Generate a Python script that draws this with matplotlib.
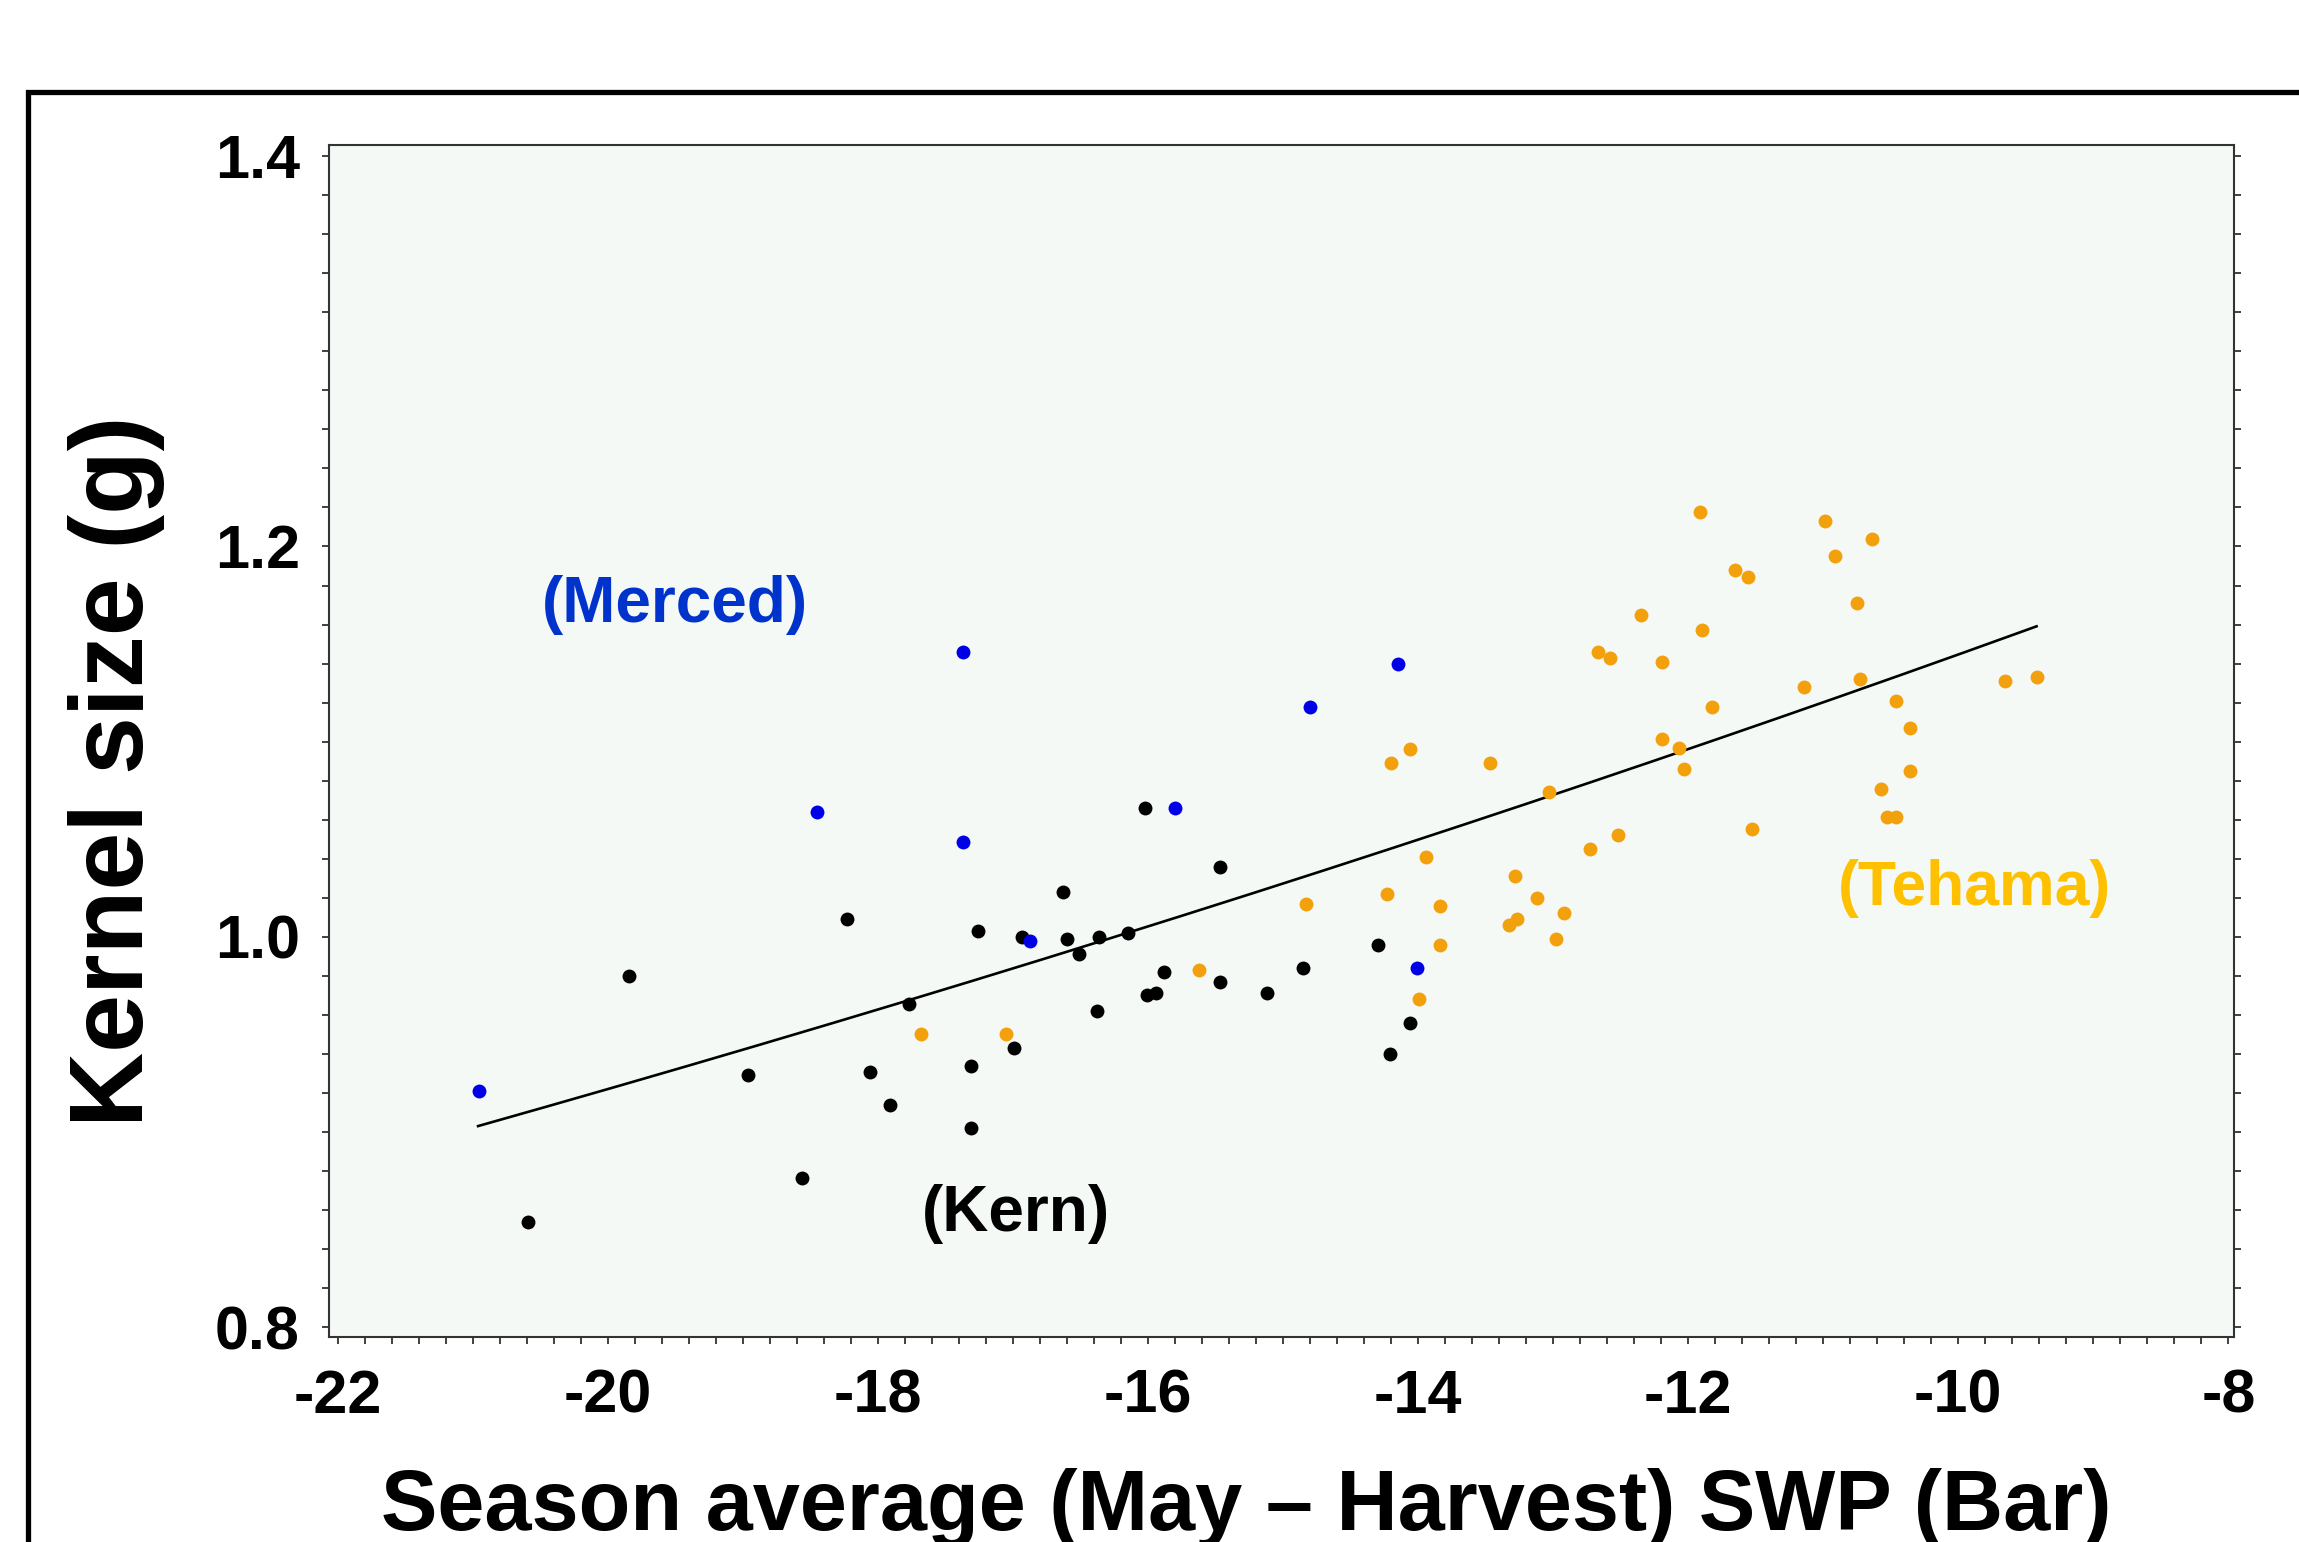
import numpy as np
import matplotlib
matplotlib.use("Agg")
import matplotlib.pyplot as plt
from matplotlib.patches import Rectangle
from matplotlib.ticker import MultipleLocator

plt.rcParams['font.family'] = ['Liberation Sans', 'DejaVu Sans']
plt.rcParams['font.weight'] = 'bold'

# ---------------- data ----------------
merced_x = [-20.95, -18.45, -17.37, -17.37, -16.87, -15.80, -14.80, -14.15, -14.01]
merced_y = [0.921, 1.064, 1.146, 1.0485, 0.998, 1.066, 1.118, 1.140, 0.984]

kern_x = [-20.59, -19.84, -18.96, -18.56, -18.23, -18.06, -17.91, -17.77, -17.31, -17.31,
          -17.26, -16.99, -16.93, -16.63, -16.60, -16.51, -16.38, -16.36, -16.15, -16.02,
          -16.01, -15.94, -15.88, -15.47, -15.47, -15.12, -14.85, -14.30, -14.21, -14.06]
kern_y = [0.854, 0.980, 0.929, 0.8765, 1.009, 0.931, 0.914, 0.9655, 0.934, 0.902,
          1.003, 0.943, 1.000, 1.023, 0.999, 0.991, 0.962, 1.000, 1.002, 1.066,
          0.970, 0.971, 0.982, 1.036, 0.977, 0.971, 0.984, 0.996, 0.940, 0.956]

tehama_x = [-17.68, -17.05, -15.62, -14.83, -14.23, -14.20, -14.06, -13.99, -13.94, -13.84,
            -13.84, -13.47, -13.33, -13.27, -13.28, -13.12, -13.03, -12.98, -12.92, -12.73,
            -12.67, -12.58, -12.52, -12.35, -12.19, -12.19, -12.07, -12.03, -11.91, -11.90,
            -11.82, -11.65, -11.56, -11.53, -11.14, -10.99, -10.91, -10.75, -10.73, -10.64,
            -10.57, -10.53, -10.46, -10.46, -10.36, -10.36, -9.65, -9.42]
tehama_y = [0.950, 0.950, 0.983, 1.017, 1.022, 1.089, 1.096, 0.968, 1.041, 1.016,
            0.996, 1.089, 1.006, 1.009, 1.031, 1.020, 1.074, 0.999, 1.012, 1.045,
            1.146, 1.143, 1.052, 1.165, 1.141, 1.1015, 1.097, 1.086, 1.2175, 1.157,
            1.118, 1.188, 1.1845, 1.0555, 1.128, 1.213, 1.195, 1.171, 1.132, 1.204,
            1.076, 1.0615, 1.0615, 1.121, 1.107, 1.085, 1.131, 1.133]

# fitted curve: y = exp(c0 + c1 * x)
fit_c0 = 0.3514
fit_c1 = 0.02163
fit_xmin = -20.96
fit_xmax = -9.42

x_ticks = [-22, -20, -18, -16, -14, -12, -10, -8]
y_ticks = [0.8, 1.0, 1.2, 1.4]

# ---------------- figure ----------------
W, H = 2299, 1542
fig = plt.figure(figsize=(W / 100, H / 100), dpi=100)
fig.patch.set_facecolor('white')

# outer black frame (runs off right and bottom edges)
frame = Rectangle((28 / W, -0.2), 1.3, (1 - 92 / H) + 0.2, transform=fig.transFigure,
                  fill=False, edgecolor='black', linewidth=3.8, clip_on=False)
fig.patches.append(frame)

ax = fig.add_axes([329 / W, 1 - 1337 / H, (2234 - 329) / W, (1337 - 145) / H])
ax.set_facecolor('#F4F9F5')

ax.scatter(kern_x, kern_y, s=100, color='black', zorder=3, linewidths=0)
ax.scatter(merced_x, merced_y, s=100, color='#0000E6', zorder=3, linewidths=0)
ax.scatter(tehama_x, tehama_y, s=100, color='#F2A10C', zorder=3, linewidths=0)

xf = np.linspace(fit_xmin, fit_xmax, 200)
ax.plot(xf, np.exp(fit_c0 + fit_c1 * xf), color='black', linewidth=1.9, zorder=2)

ax.set_xlim(-22.064, -7.958)
ax.set_ylim(0.795, 1.4057)

ax.xaxis.set_major_locator(MultipleLocator(2))
ax.xaxis.set_minor_locator(MultipleLocator(0.2))
ax.yaxis.set_major_locator(MultipleLocator(0.2))
ax.yaxis.set_minor_locator(MultipleLocator(0.02))
ax.set_xticks(x_ticks)
ax.set_xticklabels([str(v) for v in x_ticks])
ax.set_yticks(y_ticks)
ax.set_yticklabels([f"{v:.1f}" for v in y_ticks])

ax.tick_params(which='both', direction='out', length=5, width=1.3, color='#333333',
               left=True, right=True, bottom=True, top=False)
ax.tick_params(axis='y', which='major', labelsize=44, pad=16)
ax.tick_params(axis='x', which='major', labelsize=44, pad=18)
for lab in ax.get_xticklabels() + ax.get_yticklabels():
    lab.set_fontweight('bold')

for sp in ax.spines.values():
    sp.set_color('#333333')
    sp.set_linewidth(1.5)

# annotations
ax.text(-19.5, 1.170, '(Merced)', color='#0033CC', fontsize=46, fontweight='bold',
        ha='center', va='center')
ax.text(-16.98, 0.858, '(Kern)', color='black', fontsize=46, fontweight='bold',
        ha='center', va='center')
ax.text(-9.876, 1.025, '(Tehama)', color='#FFC000', fontsize=45, fontweight='bold',
        ha='center', va='center')

# axis titles
fig.text(1246 / W, 12 / H, 'Season average (May \u2013 Harvest) SWP (Bar)',
         fontsize=61, fontweight='bold', ha='center', va='baseline')
fig.text(117 / W, 1 - 771 / H, 'Kernel size (g)', fontsize=75, fontweight='bold',
         rotation=90, ha='center', va='center')

fig.savefig('out.png', dpi=100, facecolor='white')
